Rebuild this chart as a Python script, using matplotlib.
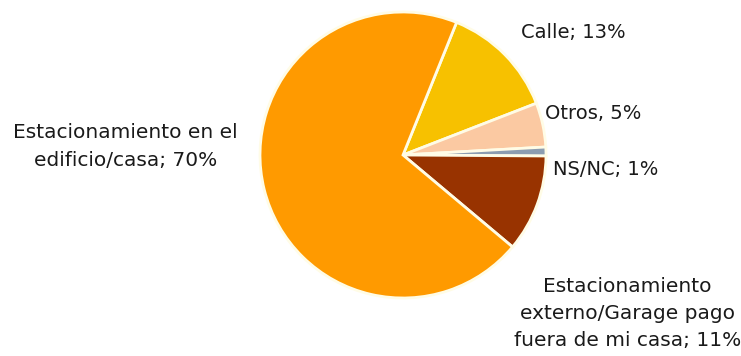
import numpy as np
import matplotlib as mpl
mpl.use('Agg')
import matplotlib.pyplot as plt

# datos
labels = ['Calle; 13%', 'Otros, 5%', 'NS/NC; 1%',
          'Estacionamiento\nexterno/Garage pago\nfuera de mi casa; 11%',
          'Estacionamiento en el\nedificio/casa; 70%']
values = [13, 5, 1, 11, 70]
colors = ['#F7C100', '#FBC9A2', '#8C9DB0', '#983300', '#FF9A00']

fig = plt.figure(figsize=(7.41, 3.56), dpi=100)
ax = fig.add_axes([260/741, 58/356, 286/741, 286/356])

wedges, _ = ax.pie(values, colors=colors, startangle=68, counterclock=False,
                   wedgeprops=dict(edgecolor='#FFFCE6', linewidth=2))
ax.set_xlim(-1, 1)
ax.set_ylim(-1, 1)
ax.set_aspect('equal')

# posiciones de etiquetas (unidades de radio)
pos = [(1.19, 0.86), (1.33, 0.29), (1.42, -0.10), (1.57, -1.11), (-1.94, 0.06)]
sizes = [14, 14, 14, 14.5, 14.5]
spacing = [1.2, 1.2, 1.2, 1.55, 1.55]
for lab, (x, y), fs, ls in zip(labels, pos, sizes, spacing):
    ax.text(x, y, lab, ha='center', va='center', fontsize=fs,
            family='DejaVu Sans', color='#1a1a1a', linespacing=ls,
            clip_on=False)

fig.savefig('out.png', dpi=100)
